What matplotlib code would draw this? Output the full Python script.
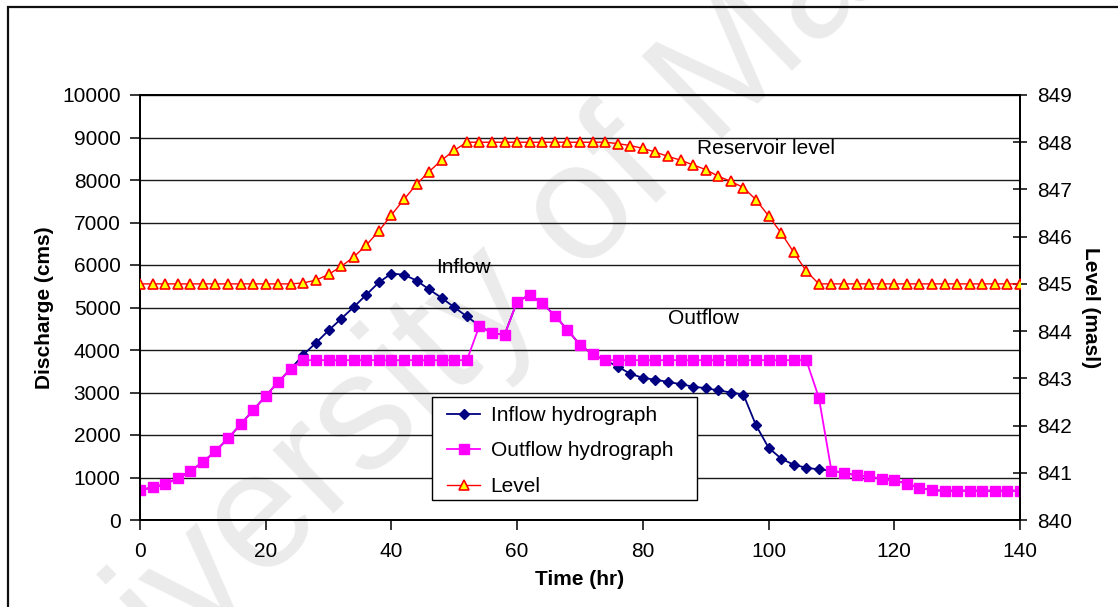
import matplotlib

matplotlib.use("Agg")

import matplotlib.pyplot as plt
from matplotlib.patches import Rectangle

plt.rcParams["font.family"] = ["Liberation Sans", "DejaVu Sans"]

NAVY = "#000080"
MAGENTA = "#FF00FF"
RED = "#FF0000"
YELLOW = "#FFFF00"
GRID_COLOR = "#1a1a1a"
FONT_SIZE = 15

hours = [
    0, 2, 4, 6, 8, 10, 12, 14, 16, 18, 20, 22, 24, 26, 28, 30, 32, 34,
    36, 38, 40, 42, 44, 46, 48, 50, 52, 54, 56, 58, 60, 62, 64, 66, 68, 70,
    72, 74, 76, 78, 80, 82, 84, 86, 88, 90, 92, 94, 96, 98, 100, 102, 104,
    106, 108, 110, 112, 114, 116, 118, 120, 122, 124, 126, 128, 130, 132,
    134, 136, 138, 140,
]

inflow = [
    705, 765, 845, 980, 1150, 1360, 1620, 1920, 2250, 2580, 2920, 3250, 3560,
    3890, 4170, 4460, 4735, 5010, 5300, 5590, 5800, 5770, 5635, 5425, 5225, 5005, 4790,
    4570, 4395, 4360, 5140, 5295, 5100, 4810, 4475, 4120, 3900, 3760,
    3610, 3440, 3345, 3300, 3250, 3195, 3140, 3100, 3050, 3000, 2950, 2230, 1700,
    1445, 1300, 1230, 1190, 1160,
    1110, 1050, 1025, 965, 940, 850, 760, 700, 690, 690, 690, 690, 690, 690, 690,
]

outflow = [
    705, 765, 845, 980, 1150, 1360, 1620, 1920, 2250, 2580, 2920, 3250, 3560,
    3760, 3760, 3760, 3760, 3760, 3760, 3760, 3760, 3760, 3760, 3760, 3760, 3760, 3760,
    4570, 4395, 4360, 5140, 5295, 5100, 4810, 4475, 4120, 3900,
    3760, 3760, 3760, 3760, 3760, 3760, 3760, 3760, 3760, 3760, 3760, 3760, 3760,
    3760, 3760, 3760, 3760,
    2880, 1160, 1110, 1050, 1025, 965, 940, 850, 760, 700, 690, 690, 690, 690,
    690, 690, 690,
]

level = [
    845.0, 845.0, 845.0, 845.0, 845.0, 845.0, 845.0, 845.0, 845.0, 845.0, 845.0,
    845.0, 845.0,
    845.02, 845.08, 845.2, 845.37, 845.57, 845.82, 846.12, 846.46, 846.79, 847.11,
    847.38, 847.62, 847.83, 848.0,
    848.0, 848.0, 848.0, 848.0, 848.0, 848.0, 848.0, 848.0, 848.0, 848.0, 848.0,
    847.97, 847.93, 847.87, 847.79, 847.7, 847.62, 847.52, 847.42, 847.28, 847.17,
    847.04, 846.78, 846.44, 846.08, 845.67, 845.27, 845.0,
    845.0, 845.0, 845.0, 845.0, 845.0, 845.0, 845.0, 845.0, 845.0, 845.0, 845.0,
    845.0, 845.0, 845.0, 845.0, 845.0,
]

x_ticks = [0, 20, 40, 60, 80, 100, 120, 140]
q_ticks = [0, 1000, 2000, 3000, 4000, 5000, 6000, 7000, 8000, 9000, 10000]
level_ticks = [840, 841, 842, 843, 844, 845, 846, 847, 848, 849]

fig = plt.figure(figsize=(11.18, 6.07), dpi=100, facecolor="white")

# faint repository watermark behind the chart
fig.text(
    0.018, -0.345, "University of Malaya", fontsize=120, color="#ebebeb",
    rotation=44, rotation_mode="anchor", ha="left", va="baseline", zorder=-5,
)

# outer frame (runs off the right and bottom edges)
fig.patches.append(
    Rectangle(
        (8 / 1118, -0.1), 1.2, 1 - 7 / 607 + 0.1,
        transform=fig.transFigure, fill=False, edgecolor="#111111",
        linewidth=1.6, zorder=-4,
    )
)

ax = fig.add_axes([140 / 1118, 1 - 520 / 607, 880 / 1118, 425 / 607])
ax.set_facecolor("none")
ax2 = ax.twinx()
ax2.set_facecolor("none")

(inflow_line,) = ax.plot(
    hours, inflow, color=NAVY, linewidth=1.3, marker="D", markersize=5,
    markerfacecolor=NAVY, markeredgecolor=NAVY, label="Inflow hydrograph", zorder=3,
)
(outflow_line,) = ax.plot(
    hours, outflow, color=MAGENTA, linewidth=1.3, marker="s", markersize=6.5,
    markerfacecolor=MAGENTA, markeredgecolor=MAGENTA, label="Outflow hydrograph", zorder=4,
)
(level_line,) = ax2.plot(
    hours, level, color=RED, linewidth=1.0, marker="^", markersize=6.5,
    markerfacecolor=YELLOW, markeredgecolor=RED, markeredgewidth=1.2, label="Level", zorder=3,
)

ax.set_xlim(0, 140)
ax.set_ylim(0, 10000)
ax2.set_ylim(840, 849)
ax.set_xticks(x_ticks)
ax.set_yticks(q_ticks)
ax2.set_yticks(level_ticks)

ax.yaxis.grid(True, color=GRID_COLOR, linewidth=1.0)
ax.set_axisbelow(True)

for axis in (ax, ax2):
    for spine in axis.spines.values():
        spine.set_color("black")
        spine.set_linewidth(1.3)
    axis.tick_params(labelsize=FONT_SIZE, length=7, width=1.1, colors="black")
ax.tick_params(axis="x", pad=9.0)
ax.tick_params(axis="y", pad=7.0)
ax2.tick_params(axis="y", direction="inout", length=10, pad=7.0)

ax.set_xlabel("Time (hr)", fontsize=FONT_SIZE, fontweight="bold")
ax.set_ylabel("Discharge (cms)", fontsize=FONT_SIZE, fontweight="bold")
ax2.set_ylabel("Level (masl)", fontsize=FONT_SIZE, fontweight="bold", rotation=270)
ax.xaxis.set_label_coords(0.5, -0.118)
ax.yaxis.set_label_coords(-0.098, 0.5)
ax2.yaxis.set_label_coords(1.091, 0.5)

ax.text(47.1, 5930, "Inflow", fontsize=FONT_SIZE, va="center", ha="left")
ax.text(84.0, 4750, "Outflow", fontsize=FONT_SIZE, va="center", ha="left")
ax.text(88.6, 8750, "Reservoir level", fontsize=FONT_SIZE, va="center", ha="left")

# legend box drawn separately so its padding can be wider than the text needs
ax2.add_patch(
    Rectangle(
        (292 / 880, 20 / 425), 265 / 880, 103 / 425, transform=ax2.transAxes,
        facecolor="white", edgecolor="black", linewidth=1.0, zorder=6,
    )
)
legend = ax2.legend(
    handles=[inflow_line, outflow_line, level_line],
    loc="upper left", bbox_to_anchor=(307 / 880, 114 / 425), fontsize=FONT_SIZE,
    frameon=False, handlelength=1.6, handletextpad=0.5, labelspacing=0.79,
    borderpad=0, borderaxespad=0,
)
legend.set_zorder(7)

fig.savefig("out.png", dpi=100, facecolor="white")
